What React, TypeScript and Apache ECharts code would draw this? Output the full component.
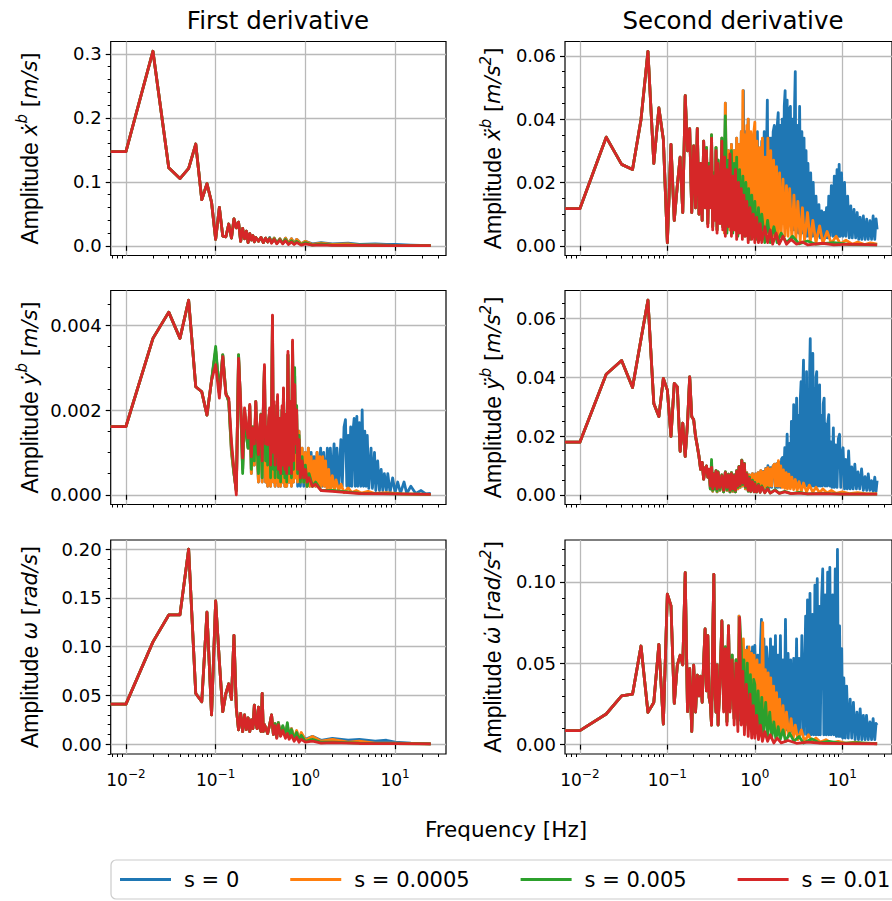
import React, { useEffect, useRef } from "react";
import * as echarts from "echarts";

type P = [number, number];

// ---------- axis constants ----------
const X_MIN = 0.006761;
const X_MAX = 36.98;
const X_MAJOR = [0.01, 0.1, 1, 10];
const X_MINOR = [0.007, 0.008, 0.009, 0.02, 0.03, 0.04, 0.05, 0.06, 0.07, 0.08, 0.09, 0.2, 0.3, 0.4, 0.5, 0.6, 0.7, 0.8, 0.9, 2, 3, 4, 5, 6, 7, 8, 9, 20, 30];

const SERIES_NAMES = ["s = 0", "s = 0.0005", "s = 0.005", "s = 0.01"];
const COLORS = ["#1f77b4", "#ff7f0e", "#2ca02c", "#d62728"];

// ---------- Panel A: first derivative, x ----------
const A_TICKS = [0, 0.1, 0.2, 0.3];
const A_LOW: P[] = [[0.01,0.147],[0.02,0.304],[0.03,0.122],[0.04,0.105],[0.05,0.121],[0.06,0.159],[0.07,0.072],[0.08,0.097],[0.09,0.068],[0.10,0.010],[0.11,0.060],[0.12,0.015],[0.13,0.014],[0.14,0.034],[0.15,0.012],[0.16,0.042],[0.17,0.028],[0.18,0.037],[0.19,0.007],[0.20,0.027],[0.21,0.011],[0.22,0.023],[0.23,0.005],[0.24,0.019],[0.25,0.009],[0.26,0.016],[0.27,0.006],[0.28,0.013],[0.30,0.007],[0.32,0.013],[0.34,0.005],[0.36,0.012],[0.38,0.006]];
const A_RED: P[] = [[0.40,0.011],[0.42,0.004],[0.45,0.010],[0.48,0.003],[0.52,0.009],[0.56,0.003],[0.60,0.008],[0.65,0.002],[0.70,0.006],[0.75,0.002],[0.80,0.005],[0.90,0.001],[1.0,0.003],[1.2,0.001],[1.5,0.0015],[2,0.0005],[4,0.0006],[8,0.0003],[25,0.0002]];
const A_GREEN: P[] = [[0.40,0.012],[0.42,0.005],[0.45,0.011],[0.48,0.004],[0.52,0.010],[0.56,0.004],[0.60,0.010],[0.65,0.003],[0.70,0.008],[0.75,0.003],[0.80,0.007],[0.90,0.002],[1.0,0.005],[1.2,0.001],[1.5,0.003],[2,0.001],[4,0.0008],[8,0.0004],[25,0.0002]];
const A_ORANGE: P[] = [[0.40,0.012],[0.42,0.005],[0.45,0.012],[0.48,0.004],[0.52,0.011],[0.56,0.004],[0.60,0.012],[0.65,0.004],[0.70,0.011],[0.75,0.003],[0.80,0.010],[0.90,0.003],[1.0,0.007],[1.2,0.002],[1.5,0.004],[2,0.002],[3,0.003],[4,0.001],[6,0.0015],[10,0.0005],[25,0.0002]];
const A_BLUE: P[] = [[0.40,0.013],[0.42,0.005],[0.45,0.012],[0.48,0.004],[0.52,0.011],[0.56,0.004],[0.60,0.012],[0.65,0.004],[0.70,0.011],[0.75,0.004],[0.80,0.010],[0.90,0.003],[1.0,0.007],[1.2,0.003],[1.5,0.005],[2,0.003],[3,0.004],[4,0.002],[6,0.003],[8,0.002],[10,0.002],[15,0.001],[25,0.0002]];

// ---------- Panel B: second derivative, x ----------
const B_TICKS = [0, 0.02, 0.04, 0.06];
const B_LOW: P[] = [[0.01,0.0117],[0.02,0.0343],[0.03,0.0257],[0.04,0.0241],[0.05,0.0399],[0.06,0.0614],[0.07,0.026],[0.08,0.0435],[0.09,0.0336],[0.10,0.001],[0.11,0.032],[0.12,0.008],[0.13,0.019],[0.14,0.028],[0.15,0.0105],[0.16,0.0474],[0.17,0.030],[0.18,0.037],[0.19,0.0105],[0.20,0.0315],[0.21,0.012],[0.22,0.037],[0.23,0.010],[0.24,0.026],[0.25,0.008],[0.26,0.033],[0.27,0.012]];
const B_RED: P[] = [[0.28,0.030],[0.29,0.006],[0.30,0.025],[0.31,0.012],[0.32,0.034],[0.33,0.005],[0.34,0.022],[0.35,0.008],[0.36,0.030],[0.37,0.004],[0.38,0.026],[0.40,0.007],[0.42,0.033],[0.43,0.005],[0.45,0.028],[0.46,0.003],[0.48,0.024],[0.50,0.006],[0.52,0.029],[0.54,0.003],[0.56,0.022],[0.58,0.005],[0.60,0.024],[0.62,0.002],[0.65,0.020],[0.67,0.004],[0.70,0.018],[0.72,0.002],[0.75,0.016],[0.78,0.003],[0.81,0.014],[0.84,0.001],[0.88,0.012],[0.92,0.002],[0.96,0.010],[1.0,0.001],[1.05,0.009],[1.1,0.001],[1.15,0.007],[1.2,0.001],[1.3,0.006],[1.4,0.001],[1.5,0.005],[1.6,0.0005],[1.75,0.004],[1.9,0.0005],[2.1,0.003],[2.3,0.0005],[2.6,0.002],[3.0,0.0005],[3.5,0.0012],[4,0.0003],[6,0.0008],[8,0.0003],[12,0.0005],[25,0.0003]];
const B_GREEN: P[] = [[0.28,0.031],[0.29,0.007],[0.30,0.026],[0.31,0.013],[0.32,0.035],[0.33,0.006],[0.34,0.023],[0.35,0.009],[0.36,0.031],[0.37,0.005],[0.38,0.027],[0.40,0.008],[0.42,0.034],[0.43,0.006],[0.45,0.030],[0.46,0.041],[0.48,0.004],[0.50,0.027],[0.52,0.007],[0.54,0.030],[0.56,0.004],[0.58,0.026],[0.60,0.006],[0.62,0.028],[0.64,0.003],[0.67,0.024],[0.70,0.005],[0.73,0.022],[0.76,0.003],[0.79,0.020],[0.82,0.004],[0.85,0.018],[0.88,0.002],[0.92,0.016],[0.96,0.003],[1.0,0.014],[1.05,0.002],[1.1,0.012],[1.15,0.002],[1.2,0.010],[1.3,0.001],[1.4,0.008],[1.5,0.001],[1.65,0.006],[1.8,0.001],[2.0,0.004],[2.3,0.001],[2.7,0.003],[3.2,0.0006],[4,0.0015],[5,0.0005],[8,0.001],[12,0.0004],[25,0.0003]];
const B_ORANGE: P[] = [[0.28,0.031],[0.29,0.007],[0.30,0.026],[0.31,0.013],[0.32,0.035],[0.33,0.006],[0.34,0.023],[0.35,0.009],[0.36,0.031],[0.37,0.005],[0.38,0.027],[0.40,0.008],[0.42,0.034],[0.43,0.006],[0.44,0.030],[0.45,0.004],[0.46,0.045],[0.48,0.007],[0.50,0.030],[0.52,0.005],[0.54,0.032],[0.56,0.007],[0.58,0.030],[0.60,0.005],[0.62,0.034],[0.64,0.006],[0.66,0.032],[0.68,0.008],[0.70,0.036],[0.72,0.010],[0.73,0.049],[0.75,0.009],[0.77,0.035],[0.79,0.008],[0.81,0.038],[0.83,0.007],[0.84,0.040],[0.87,0.008],[0.90,0.036],[0.93,0.006],[0.96,0.034],[1.0,0.039],[1.02,0.006],[1.06,0.033],[1.10,0.005],[1.14,0.031],[1.18,0.005],[1.22,0.034],[1.26,0.004],[1.31,0.028],[1.36,0.004],[1.41,0.034],[1.46,0.004],[1.52,0.030],[1.58,0.003],[1.64,0.027],[1.70,0.003],[1.77,0.025],[1.84,0.003],[1.92,0.023],[2.0,0.003],[2.1,0.021],[2.2,0.003],[2.3,0.019],[2.4,0.003],[2.5,0.018],[2.65,0.002],[2.8,0.016],[2.95,0.002],[3.1,0.014],[3.3,0.0015],[3.5,0.012],[3.7,0.0015],[4.0,0.0105],[4.3,0.0012],[4.6,0.008],[5.0,0.001],[5.5,0.0063],[6.0,0.0008],[6.7,0.0045],[7.5,0.0007],[8.5,0.003],[9.5,0.0006],[11,0.0018],[13,0.0005],[15,0.0012],[18,0.0004],[21,0.0009],[25,0.0005]];
const B_BLUE_HIGH: P[] = [[0.72,0.010],[0.74,0.049],[0.76,0.008],[0.78,0.036],[0.80,0.008],[0.82,0.034],[0.84,0.040],[0.86,0.008],[0.89,0.035],[0.92,0.008],[0.95,0.033],[0.98,0.008],[1.0,0.034],[1.03,0.008],[1.07,0.036],[1.10,0.008],[1.13,0.028],[1.16,0.008],[1.20,0.033],[1.24,0.008],[1.28,0.036],[1.32,0.008],[1.36,0.030],[1.39,0.046],[1.42,0.008],[1.46,0.034],[1.50,0.008],[1.53,0.034],[1.57,0.008],[1.62,0.036],[1.67,0.038],[1.72,0.008],[1.78,0.036],[1.85,0.042],[1.90,0.007],[1.95,0.038],[2.0,0.007],[2.06,0.040],[2.12,0.007],[2.17,0.044],[2.22,0.049],[2.27,0.006],[2.34,0.046],[2.40,0.006],[2.47,0.043],[2.55,0.044],[2.62,0.005],[2.70,0.040],[2.78,0.005],[2.85,0.045],[2.90,0.055],[2.96,0.005],[3.05,0.038],[3.15,0.004],[3.25,0.044],[3.35,0.004],[3.45,0.036],[3.55,0.004],[3.65,0.034],[3.75,0.004],[3.85,0.030],[3.95,0.003],[4.05,0.026],[4.2,0.003],[4.35,0.023],[4.5,0.003],[4.65,0.020],[4.8,0.003],[5.0,0.0157],[5.2,0.003],[5.4,0.013],[5.6,0.0025],[5.8,0.011],[6.0,0.0025],[6.2,0.0105],[6.4,0.0025],[6.6,0.012],[6.8,0.0025],[7.0,0.0157],[7.2,0.003],[7.5,0.019],[7.8,0.003],[8.1,0.022],[8.4,0.003],[8.7,0.024],[9.0,0.003],[9.2,0.0257],[9.5,0.003],[9.8,0.023],[10.2,0.003],[10.6,0.020],[11.0,0.003],[11.5,0.0157],[12.0,0.0025],[12.5,0.0126],[13.0,0.0025],[13.6,0.0115],[14.2,0.0025],[14.8,0.0105],[15.4,0.002],[16.0,0.009],[16.7,0.002],[17.4,0.0094],[18.2,0.002],[19.0,0.0084],[19.8,0.002],[20.7,0.0079],[21.6,0.002],[22.5,0.0094],[23.5,0.002],[24.3,0.0085],[25,0.0052]];
const B_BLUE: P[] = [...B_ORANGE.filter((p) => p[0] <= 0.70), ...B_BLUE_HIGH];

// ---------- Panel C: first derivative, y ----------
const C_TICKS = [0, 0.002, 0.004];
const C_LOW: P[] = [[0.01,0.00161],[0.02,0.00369],[0.03,0.00431],[0.04,0.00369],[0.05,0.00459],[0.06,0.00255],[0.07,0.00243],[0.08,0.00188],[0.09,0.0027]];
const C_RED: P[] = [[0.10,0.00307],[0.11,0.00228],[0.12,0.00326],[0.13,0.00236],[0.14,0.00228],[0.15,0.00126],[0.16,0.0006],[0.17,0.0],[0.18,0.00322],[0.19,0.0022],[0.20,0.00087],[0.21,0.00205],[0.22,0.0016],[0.23,0.00134],[0.24,0.00213],[0.25,0.0009],[0.26,0.00158],[0.27,0.0012],[0.28,0.0022],[0.29,0.0014],[0.30,0.00095],[0.31,0.0016],[0.32,0.00189],[0.33,0.0008],[0.34,0.0021],[0.35,0.00307],[0.36,0.0012],[0.37,0.0016],[0.38,0.00118],[0.39,0.0018],[0.40,0.00205],[0.41,0.0007],[0.42,0.0019],[0.43,0.00424],[0.44,0.0010],[0.45,0.0022],[0.46,0.0007],[0.47,0.0017],[0.48,0.0009],[0.49,0.00236],[0.50,0.0006],[0.52,0.0018],[0.53,0.0005],[0.55,0.0021],[0.56,0.0007],[0.57,0.00252],[0.59,0.0006],[0.61,0.0019],[0.62,0.0005],[0.64,0.00338],[0.66,0.0007],[0.68,0.0022],[0.70,0.0005],[0.72,0.00365],[0.74,0.0008],[0.76,0.0026],[0.78,0.0012],[0.80,0.0020],[0.82,0.0006],[0.85,0.0013],[0.88,0.0004],[0.92,0.0008],[0.96,0.0004],[1.0,0.0006],[1.05,0.0003],[1.1,0.0004],[1.2,0.0002],[1.3,0.00025],[1.5,0.0001],[2,0.00008],[4,0.00003],[10,0.00002],[25,0.00001]];
const C_GREEN: P[] = [[0.10,0.0035],[0.11,0.0024],[0.12,0.0033],[0.13,0.0024],[0.14,0.0022],[0.15,0.0011],[0.16,0.0005],[0.17,0.0001],[0.18,0.0033],[0.19,0.0021],[0.20,0.0005],[0.21,0.0020],[0.22,0.0014],[0.23,0.0011],[0.24,0.0021],[0.25,0.0006],[0.26,0.0016],[0.27,0.0008],[0.28,0.0022],[0.29,0.0011],[0.30,0.0005],[0.31,0.0015],[0.32,0.0019],[0.33,0.0004],[0.34,0.0020],[0.35,0.0030],[0.36,0.0008],[0.37,0.0015],[0.38,0.0007],[0.39,0.0017],[0.40,0.0020],[0.41,0.0004],[0.42,0.0018],[0.43,0.0042],[0.44,0.0006],[0.45,0.0021],[0.46,0.0004],[0.47,0.0016],[0.48,0.0006],[0.49,0.0023],[0.50,0.0004],[0.52,0.0018],[0.53,0.0003],[0.55,0.0020],[0.56,0.0005],[0.57,0.0025],[0.59,0.0004],[0.61,0.0019],[0.62,0.0003],[0.64,0.0033],[0.66,0.0005],[0.68,0.0022],[0.70,0.0004],[0.72,0.0036],[0.74,0.0006],[0.76,0.0030],[0.78,0.0010],[0.80,0.0021],[0.82,0.0005],[0.85,0.0014],[0.88,0.0003],[0.92,0.0009],[0.96,0.0003],[1.0,0.0007],[1.05,0.0002],[1.1,0.0005],[1.2,0.0002],[1.3,0.0003],[1.5,0.0001],[2,0.0001],[4,0.00004],[10,0.00002],[25,0.00001]];
const C_ORANGE: P[] = [[0.10,0.0034],[0.11,0.0024],[0.12,0.0033],[0.13,0.0024],[0.14,0.0022],[0.15,0.0010],[0.16,0.0005],[0.17,0.0001],[0.18,0.0033],[0.19,0.0021],[0.20,0.0006],[0.21,0.0020],[0.22,0.0014],[0.23,0.0011],[0.24,0.0021],[0.25,0.0005],[0.26,0.0016],[0.27,0.0007],[0.28,0.0022],[0.29,0.0010],[0.30,0.0003],[0.31,0.0015],[0.32,0.0019],[0.33,0.0003],[0.34,0.0020],[0.35,0.0030],[0.36,0.0003],[0.37,0.0015],[0.38,0.0002],[0.39,0.0017],[0.40,0.0020],[0.41,0.0002],[0.42,0.0018],[0.43,0.0042],[0.44,0.0003],[0.45,0.0021],[0.46,0.0002],[0.47,0.0016],[0.48,0.0003],[0.49,0.0023],[0.50,0.0002],[0.52,0.0018],[0.53,0.0002],[0.55,0.0020],[0.56,0.0003],[0.57,0.0025],[0.59,0.0002],[0.61,0.0019],[0.62,0.0002],[0.64,0.0033],[0.66,0.0003],[0.68,0.0022],[0.70,0.0002],[0.72,0.0036],[0.74,0.0003],[0.76,0.0028],[0.78,0.0004],[0.80,0.0019],[0.82,0.0003],[0.85,0.0015],[0.88,0.0003],[0.92,0.0011],[0.96,0.0003],[1.0,0.0010],[1.04,0.0002],[1.08,0.0011],[1.12,0.0002],[1.16,0.0009],[1.2,0.0002],[1.25,0.0008],[1.3,0.0002],[1.35,0.0010],[1.4,0.0002],[1.45,0.0009],[1.5,0.0002],[1.56,0.0009],[1.62,0.0002],[1.68,0.0008],[1.75,0.0001],[1.82,0.0006],[1.9,0.0001],[2.0,0.00045],[2.1,0.0001],[2.2,0.00035],[2.35,0.0001],[2.5,0.00025],[2.7,0.00005],[3.0,0.00016],[3.3,0.00005],[3.7,0.0001],[4.2,0.00004],[5,0.00008],[6,0.00003],[8,0.00005],[12,0.00002],[25,0.00001]];
const C_BLUE_HIGH: P[] = [[0.80,0.0019],[0.82,0.0002],[0.85,0.0015],[0.88,0.0002],[0.92,0.0011],[0.96,0.0002],[1.0,0.0010],[1.04,0.0002],[1.08,0.0011],[1.12,0.0002],[1.16,0.0010],[1.2,0.0002],[1.25,0.0009],[1.3,0.0002],[1.35,0.0010],[1.4,0.0002],[1.48,0.0011],[1.54,0.0002],[1.6,0.0010],[1.66,0.0002],[1.76,0.0011],[1.82,0.0002],[1.9,0.0011],[1.98,0.0002],[2.09,0.0012],[2.16,0.0002],[2.25,0.0011],[2.35,0.0002],[2.49,0.0013],[2.58,0.0002],[2.7,0.0016],[2.8,0.00177],[2.9,0.0002],[3.0,0.0014],[3.1,0.0002],[3.2,0.0016],[3.3,0.0002],[3.4,0.0015],[3.5,0.0018],[3.6,0.0002],[3.75,0.00185],[3.85,0.0002],[4.0,0.0017],[4.15,0.0002],[4.3,0.0020],[4.45,0.0002],[4.6,0.0015],[4.75,0.0002],[4.9,0.0014],[5.1,0.00015],[5.4,0.0011],[5.6,0.00015],[5.9,0.0010],[6.1,0.0001],[6.4,0.0008],[6.7,0.0001],[7.0,0.0006],[7.3,0.0001],[7.6,0.0005],[8.0,0.0001],[8.3,0.0005],[8.8,0.00005],[9.4,0.0004],[10,0.00005],[10.7,0.0003],[11.5,0.00004],[12.6,0.0003],[13.5,0.00003],[15,0.0002],[17,0.00003],[19.5,0.0001],[22,0.00002],[25,0.00003]];
const C_BLUE: P[] = [...C_ORANGE.filter((p) => p[0] <= 0.78), ...C_BLUE_HIGH];

// ---------- Panel D: second derivative, y ----------
const D_TICKS = [0, 0.02, 0.04, 0.06];
const D_LOW: P[] = [[0.01,0.0179],[0.02,0.041],[0.03,0.0457],[0.04,0.0365],[0.05,0.053],[0.06,0.0662],[0.07,0.0311],[0.08,0.0266],[0.09,0.0396],[0.10,0.0356],[0.11,0.0199],[0.12,0.0379],[0.13,0.0367],[0.14,0.0148],[0.15,0.0244],[0.16,0.0131],[0.17,0.0244],[0.18,0.0401],[0.19,0.0266],[0.20,0.0255],[0.21,0.0199],[0.22,0.0165],[0.23,0.013],[0.24,0.0087],[0.25,0.011],[0.26,0.0053],[0.27,0.009],[0.28,0.0098],[0.29,0.006]];
const D_RED: P[] = [[0.30,0.0087],[0.31,0.003],[0.32,0.0093],[0.33,0.002],[0.34,0.007],[0.35,0.003],[0.36,0.008],[0.37,0.002],[0.38,0.0075],[0.40,0.0025],[0.42,0.0065],[0.44,0.0015],[0.46,0.0075],[0.48,0.0025],[0.50,0.0068],[0.52,0.0015],[0.54,0.0072],[0.56,0.002],[0.58,0.0065],[0.60,0.0015],[0.62,0.008],[0.64,0.003],[0.66,0.0095],[0.68,0.0035],[0.71,0.0116],[0.73,0.004],[0.76,0.0105],[0.78,0.003],[0.81,0.007],[0.84,0.0015],[0.87,0.0055],[0.90,0.0012],[0.94,0.0045],[0.98,0.001],[1.0,0.0037],[1.05,0.001],[1.1,0.0032],[1.15,0.0008],[1.2,0.0026],[1.3,0.0007],[1.4,0.002],[1.5,0.0006],[1.7,0.0015],[1.9,0.0005],[2.2,0.001],[2.6,0.0004],[3.2,0.0006],[4,0.0003],[6,0.0004],[10,0.0002],[25,0.0002]];
const D_GREEN: P[] = [[0.30,0.0085],[0.31,0.002],[0.32,0.012],[0.33,0.0015],[0.34,0.0072],[0.35,0.002],[0.36,0.0082],[0.37,0.0012],[0.38,0.0078],[0.40,0.0018],[0.42,0.0068],[0.44,0.001],[0.46,0.0078],[0.48,0.0018],[0.50,0.007],[0.52,0.001],[0.54,0.0075],[0.56,0.0015],[0.58,0.0068],[0.60,0.001],[0.62,0.0082],[0.64,0.0025],[0.66,0.0097],[0.68,0.003],[0.71,0.0118],[0.73,0.0035],[0.76,0.0107],[0.78,0.0025],[0.81,0.0073],[0.84,0.0012],[0.87,0.006],[0.90,0.001],[0.94,0.005],[0.98,0.001],[1.0,0.0042],[1.05,0.0009],[1.1,0.0036],[1.15,0.0008],[1.2,0.003],[1.3,0.0007],[1.4,0.0024],[1.5,0.0006],[1.7,0.0018],[1.9,0.0005],[2.2,0.0012],[2.6,0.0004],[3.2,0.0008],[4,0.0003],[6,0.0005],[10,0.0002],[25,0.0002]];
const D_ORANGE: P[] = [[0.30,0.0085],[0.31,0.002],[0.32,0.0105],[0.33,0.0012],[0.34,0.0072],[0.35,0.002],[0.36,0.0082],[0.37,0.001],[0.38,0.0078],[0.40,0.0015],[0.42,0.0068],[0.44,0.001],[0.46,0.0078],[0.48,0.0015],[0.50,0.007],[0.52,0.001],[0.54,0.0075],[0.56,0.0012],[0.58,0.0068],[0.60,0.001],[0.62,0.0082],[0.64,0.002],[0.66,0.0097],[0.68,0.0025],[0.71,0.0118],[0.73,0.003],[0.76,0.0107],[0.78,0.002],[0.81,0.0075],[0.84,0.0015],[0.87,0.0068],[0.90,0.0015],[0.94,0.0072],[0.98,0.0015],[1.02,0.0071],[1.06,0.002],[1.09,0.0075],[1.13,0.002],[1.17,0.0082],[1.21,0.0025],[1.25,0.0078],[1.29,0.0025],[1.33,0.0088],[1.37,0.003],[1.41,0.0092],[1.46,0.003],[1.51,0.0088],[1.56,0.003],[1.61,0.0095],[1.67,0.0104],[1.72,0.003],[1.78,0.0105],[1.83,0.003],[1.86,0.0116],[1.92,0.003],[1.98,0.0098],[2.05,0.0025],[2.12,0.0085],[2.2,0.0022],[2.28,0.0075],[2.36,0.002],[2.45,0.007],[2.55,0.002],[2.65,0.006],[2.78,0.0018],[2.9,0.0052],[3.05,0.0015],[3.2,0.0045],[3.4,0.0012],[3.6,0.004],[3.9,0.001],[4.2,0.0033],[4.6,0.0009],[5.0,0.0026],[5.5,0.0007],[6.0,0.002],[6.7,0.0006],[7.5,0.0015],[8.5,0.0005],[10,0.001],[12,0.0004],[15,0.0007],[19,0.0003],[25,0.0004]];
const D_BLUE_HIGH: P[] = [[1.21,0.0025],[1.25,0.0080],[1.29,0.0025],[1.33,0.0090],[1.37,0.0025],[1.41,0.0099],[1.46,0.0025],[1.51,0.0092],[1.56,0.0025],[1.61,0.0097],[1.67,0.0104],[1.72,0.0025],[1.78,0.0106],[1.83,0.0025],[1.9,0.0110],[1.96,0.0025],[2.02,0.0122],[2.07,0.0127],[2.12,0.003],[2.2,0.016],[2.26,0.003],[2.34,0.0206],[2.42,0.003],[2.5,0.0175],[2.56,0.003],[2.62,0.025],[2.7,0.003],[2.78,0.0307],[2.85,0.003],[2.9,0.022],[2.95,0.003],[3.0,0.0329],[3.08,0.003],[3.15,0.027],[3.22,0.003],[3.3,0.032],[3.38,0.0385],[3.45,0.003],[3.52,0.034],[3.6,0.0458],[3.67,0.003],[3.74,0.036],[3.82,0.003],[3.9,0.0419],[3.98,0.003],[4.06,0.034],[4.15,0.003],[4.22,0.040],[4.3,0.0531],[4.38,0.003],[4.46,0.042],[4.54,0.003],[4.6,0.0481],[4.7,0.003],[4.8,0.036],[4.9,0.003],[5.0,0.040],[5.1,0.0419],[5.2,0.003],[5.3,0.033],[5.4,0.003],[5.5,0.0374],[5.6,0.003],[5.75,0.027],[5.9,0.003],[6.05,0.031],[6.2,0.0329],[6.35,0.003],[6.5,0.024],[6.7,0.003],[6.85,0.025],[7.0,0.0273],[7.2,0.003],[7.4,0.018],[7.6,0.0025],[7.9,0.0228],[8.1,0.0025],[8.4,0.017],[8.7,0.0025],[9.0,0.019],[9.3,0.0206],[9.6,0.0025],[9.9,0.014],[10.2,0.016],[10.6,0.002],[11.0,0.012],[11.4,0.002],[11.8,0.0149],[12.3,0.002],[12.8,0.0095],[13.3,0.002],[13.9,0.0104],[14.5,0.002],[15.1,0.0078],[15.8,0.002],[16.6,0.0088],[17.4,0.0015],[18.2,0.0062],[19.0,0.0015],[19.8,0.0071],[20.7,0.0015],[21.6,0.0048],[22.5,0.0012],[23.5,0.006],[24.3,0.0012],[25,0.0048]];
const D_BLUE: P[] = [...D_ORANGE.filter((p) => p[0] <= 1.17), ...D_BLUE_HIGH];

// ---------- Panel E: first derivative, omega ----------
const E_TICKS = [0, 0.05, 0.1, 0.15, 0.2];
const E_LOW: P[] = [[0.01,0.0411],[0.02,0.105],[0.03,0.1326],[0.04,0.1326],[0.05,0.200],[0.06,0.052],[0.07,0.0435],[0.08,0.1354],[0.09,0.030],[0.10,0.147],[0.11,0.085],[0.12,0.0333],[0.13,0.052],[0.14,0.062],[0.15,0.046],[0.16,0.1115],[0.17,0.037],[0.18,0.0146],[0.19,0.0316],[0.20,0.0129],[0.21,0.030],[0.22,0.015],[0.23,0.027],[0.24,0.013],[0.25,0.025],[0.26,0.016],[0.27,0.040],[0.28,0.021],[0.29,0.016],[0.30,0.038],[0.31,0.018],[0.32,0.013],[0.33,0.052],[0.34,0.013],[0.35,0.020],[0.36,0.017],[0.38,0.011],[0.40,0.020],[0.42,0.030],[0.44,0.010]];
const E_RED: P[] = [[0.46,0.019],[0.48,0.006],[0.50,0.020],[0.53,0.008],[0.56,0.014],[0.60,0.006],[0.63,0.011],[0.66,0.005],[0.70,0.009],[0.75,0.003],[0.80,0.007],[0.85,0.002],[0.90,0.005],[1.0,0.002],[1.2,0.003],[1.5,0.001],[2,0.0015],[4,0.0007],[10,0.0005],[25,0.0003]];
const E_GREEN: P[] = [[0.46,0.021],[0.48,0.007],[0.50,0.022],[0.53,0.009],[0.56,0.019],[0.60,0.008],[0.63,0.022],[0.66,0.007],[0.70,0.015],[0.75,0.005],[0.80,0.012],[0.85,0.004],[0.90,0.009],[1.0,0.003],[1.2,0.005],[1.5,0.002],[2,0.002],[4,0.001],[10,0.0006],[25,0.0003]];
const E_ORANGE: P[] = [[0.46,0.021],[0.48,0.007],[0.50,0.022],[0.53,0.009],[0.56,0.018],[0.60,0.008],[0.63,0.020],[0.66,0.007],[0.70,0.016],[0.75,0.006],[0.80,0.014],[0.85,0.005],[0.90,0.012],[1.0,0.004],[1.2,0.008],[1.5,0.003],[2,0.005],[3,0.002],[4,0.003],[6,0.001],[10,0.001],[25,0.0003]];
const E_BLUE: P[] = [[0.46,0.021],[0.48,0.007],[0.50,0.022],[0.53,0.009],[0.56,0.018],[0.60,0.008],[0.63,0.020],[0.66,0.007],[0.70,0.016],[0.75,0.006],[0.80,0.013],[0.85,0.005],[0.90,0.011],[1.0,0.005],[1.2,0.008],[1.5,0.004],[2,0.006],[3,0.004],[4,0.005],[6,0.003],[8,0.004],[10,0.002],[15,0.001],[25,0.0003]];

// ---------- Panel F: second derivative, omega ----------
const F_TICKS = [0, 0.05, 0.1];
const F_LOW: P[] = [[0.01,0.0086],[0.02,0.0188],[0.03,0.030],[0.04,0.031],[0.05,0.0606],[0.06,0.0198],[0.07,0.0259],[0.08,0.0616],[0.09,0.0126],[0.10,0.0925],[0.11,0.0854],[0.12,0.0254],[0.13,0.0488],[0.14,0.0549],[0.15,0.049],[0.16,0.1057],[0.17,0.0203],[0.18,0.0467],[0.19,0.0081],[0.20,0.0488],[0.21,0.020],[0.22,0.0427],[0.23,0.030],[0.24,0.042],[0.25,0.026],[0.26,0.051],[0.27,0.0711],[0.28,0.033],[0.29,0.067],[0.30,0.029],[0.31,0.025],[0.32,0.012],[0.33,0.065],[0.34,0.1047],[0.35,0.031],[0.36,0.020],[0.37,0.049],[0.38,0.012]];
const F_RED: P[] = [[0.40,0.038],[0.42,0.076],[0.44,0.020],[0.46,0.059],[0.48,0.012],[0.50,0.073],[0.52,0.020],[0.55,0.052],[0.58,0.012],[0.61,0.050],[0.64,0.008],[0.67,0.078],[0.70,0.012],[0.73,0.045],[0.76,0.006],[0.80,0.037],[0.84,0.005],[0.88,0.031],[0.92,0.004],[0.96,0.024],[1.0,0.004],[1.05,0.018],[1.1,0.003],[1.16,0.012],[1.22,0.002],[1.3,0.008],[1.4,0.002],[1.5,0.006],[1.65,0.001],[1.8,0.004],[2.0,0.001],[2.4,0.0025],[3,0.0008],[4,0.0015],[6,0.0008],[10,0.0006],[25,0.0005]];
const F_GREEN: P[] = [[0.40,0.040],[0.42,0.076],[0.44,0.022],[0.46,0.060],[0.48,0.014],[0.50,0.073],[0.52,0.022],[0.55,0.055],[0.58,0.016],[0.61,0.052],[0.64,0.012],[0.67,0.078],[0.70,0.059],[0.72,0.015],[0.75,0.052],[0.78,0.012],[0.82,0.050],[0.85,0.010],[0.89,0.043],[0.93,0.009],[0.97,0.040],[1.0,0.037],[1.04,0.008],[1.09,0.033],[1.14,0.007],[1.2,0.029],[1.26,0.006],[1.33,0.026],[1.4,0.005],[1.48,0.020],[1.56,0.004],[1.65,0.014],[1.74,0.003],[1.85,0.011],[1.95,0.003],[2.1,0.009],[2.25,0.002],[2.5,0.007],[2.8,0.002],[3.2,0.005],[3.6,0.001],[4.5,0.0035],[5.5,0.001],[7,0.002],[10,0.0008],[15,0.0012],[25,0.0005]];
const F_ORANGE: P[] = [[0.40,0.040],[0.42,0.076],[0.44,0.022],[0.46,0.060],[0.48,0.014],[0.50,0.073],[0.52,0.022],[0.55,0.055],[0.58,0.016],[0.61,0.052],[0.64,0.015],[0.66,0.079],[0.68,0.020],[0.70,0.060],[0.72,0.018],[0.74,0.065],[0.77,0.020],[0.80,0.058],[0.83,0.018],[0.86,0.060],[0.89,0.016],[0.92,0.056],[0.95,0.015],[0.98,0.055],[1.02,0.016],[1.06,0.052],[1.1,0.014],[1.14,0.049],[1.18,0.013],[1.23,0.075],[1.27,0.013],[1.32,0.046],[1.37,0.012],[1.42,0.044],[1.47,0.011],[1.52,0.041],[1.58,0.010],[1.64,0.036],[1.7,0.009],[1.77,0.032],[1.84,0.008],[1.92,0.028],[2.0,0.007],[2.1,0.024],[2.2,0.006],[2.3,0.020],[2.45,0.005],[2.6,0.016],[2.75,0.004],[2.9,0.012],[3.1,0.003],[3.4,0.009],[3.7,0.002],[4.1,0.006],[4.5,0.002],[5,0.004],[5.6,0.0015],[6.5,0.003],[7.5,0.001],[9,0.002],[11,0.0008],[14,0.0015],[18,0.0006],[25,0.0006]];
const F_BLUE_HIGH: P[] = [[0.66,0.079],[0.68,0.015],[0.71,0.061],[0.73,0.015],[0.76,0.058],[0.79,0.015],[0.82,0.060],[0.85,0.015],[0.88,0.057],[0.91,0.015],[0.94,0.060],[0.97,0.015],[1.0,0.061],[1.04,0.015],[1.08,0.055],[1.12,0.015],[1.16,0.060],[1.19,0.077],[1.22,0.014],[1.27,0.065],[1.31,0.014],[1.36,0.060],[1.41,0.049],[1.46,0.013],[1.51,0.065],[1.56,0.013],[1.61,0.060],[1.66,0.012],[1.72,0.067],[1.78,0.012],[1.84,0.055],[1.9,0.011],[1.96,0.067],[2.02,0.010],[2.1,0.052],[2.17,0.010],[2.24,0.077],[2.31,0.009],[2.4,0.056],[2.48,0.008],[2.57,0.052],[2.66,0.008],[2.78,0.053],[2.88,0.007],[3.0,0.065],[3.1,0.007],[3.2,0.053],[3.3,0.006],[3.45,0.067],[3.6,0.006],[3.81,0.079],[3.9,0.006],[4.0,0.089],[4.13,0.006],[4.27,0.093],[4.4,0.006],[4.55,0.080],[4.7,0.006],[4.86,0.098],[5.0,0.006],[5.17,0.102],[5.3,0.006],[5.45,0.085],[5.6,0.006],[5.8,0.090],[5.97,0.108],[6.15,0.006],[6.35,0.092],[6.55,0.006],[6.8,0.106],[7.0,0.006],[7.2,0.109],[7.45,0.006],[7.75,0.092],[8.0,0.006],[8.3,0.108],[8.55,0.005],[8.8,0.120],[9.05,0.005],[9.3,0.073],[9.55,0.005],[9.84,0.059],[10.1,0.004],[10.4,0.041],[10.8,0.004],[11.2,0.036],[11.7,0.004],[12.3,0.028],[12.8,0.004],[13.4,0.026],[14,0.003],[14.7,0.020],[15.3,0.003],[16,0.022],[16.7,0.003],[17.4,0.018],[18.2,0.003],[18.9,0.018],[19.8,0.003],[20.7,0.014],[21.6,0.003],[22.5,0.016],[23.5,0.003],[24.3,0.013],[25,0.012]];
const F_BLUE: P[] = [...F_ORANGE.filter((p) => p[0] <= 0.64), ...F_BLUE_HIGH];

// ---------- layout & styles ----------
const FONT_H = '"DejaVu Sans", sans-serif';
const FONT_V = '"Liberation Sans", Arial, sans-serif';
const FONT_M = '"DejaVu Sans", sans-serif';
const GRID_COLOR = "#b9b9b9";
const COL_LEFT = [110.7, 565];
const COL_WIDTH = [335.3, 336];
const ROW_TOP = [41.5, 290.5, 540];
const ROW_HEIGHT = 214;
const NAME_GAP = [66, 57];
const LINE_WIDTH = 2.8;

const PANELS = [
  { low: A_LOW, tails: [A_BLUE, A_ORANGE, A_GREEN, A_RED], yMin: -0.0152, yMax: 0.3192, split: 3, ticks: A_TICKS, dec: 1, minor: 5, name: "{n|Amplitude }{m|\u1E8B}{s|b}{u| [}{m|m/s}{u|]}" },
  { low: B_LOW, tails: [B_BLUE, B_ORANGE, B_GREEN, B_RED], yMin: -0.00307, yMax: 0.0645, split: 3, ticks: B_TICKS, dec: 2, minor: 4, name: "{n|Amplitude }{m|\u1E8D}{s|b}{u| [}{m|m/s}{s|2}{u|]}" },
  { low: C_LOW, tails: [C_BLUE, C_ORANGE, C_GREEN, C_RED], yMin: -0.00023, yMax: 0.00482, split: 3, ticks: C_TICKS, dec: 3, minor: 4, name: "{n|Amplitude }{m|\u1E8F}{s|b}{u| [}{m|m/s}{u|]}" },
  { low: D_LOW, tails: [D_BLUE, D_ORANGE, D_GREEN, D_RED], yMin: -0.0033, yMax: 0.0695, split: 4, ticks: D_TICKS, dec: 2, minor: 4, name: "{n|Amplitude }{m|\u00FF}{s|b}{u| [}{m|m/s}{s|2}{u|]}" },
  { low: E_LOW, tails: [E_BLUE, E_ORANGE, E_GREEN, E_RED], yMin: -0.0101, yMax: 0.2095, split: 4, ticks: E_TICKS, dec: 2, minor: 5, name: "{n|Amplitude }{m|\u03C9}{u| [}{m|rad/s}{u|]}" },
  { low: F_LOW, tails: [F_BLUE, F_ORANGE, F_GREEN, F_RED], yMin: -0.0058, yMax: 0.1258, split: 3, ticks: F_TICKS, dec: 2, minor: 5, name: "{n|Amplitude }{m|\u03C9\u0307}{u| [}{m|rad/s}{s|2}{u|]}" },
];

const NAME_RICH = {
  n: { fontFamily: FONT_V, fontSize: 23, lineHeight: 30, color: "#000" },
  m: { fontFamily: FONT_M, fontStyle: "italic", fontSize: 21, lineHeight: 30, color: "#000" },
  u: { fontFamily: FONT_M, fontSize: 21, lineHeight: 30, color: "#000" },
  s: { fontFamily: FONT_M, fontStyle: "italic", fontSize: 15, lineHeight: 14, verticalAlign: "top", color: "#000" },
};

const XL_RICH = {
  b: { fontFamily: FONT_H, fontSize: 17, lineHeight: 24, color: "#000" },
  e: { fontFamily: FONT_H, fontSize: 12, lineHeight: 10, verticalAlign: "top", color: "#000" },
};

function buildSeriesData(low: P[], tail: P[]): P[] {
  return [[X_MIN, low[0][1]], ...low, ...tail];
}

function buildOption() {
  const grid: any[] = [];
  const xAxis: any[] = [];
  const yAxis: any[] = [];
  const series: any[] = [];
  const tickLine = { color: "#000", width: 1.2 };

  PANELS.forEach((p, i) => {
    const row = Math.floor(i / 2);
    const col = i % 2;
    const isBottom = row === 2;
    grid.push({
      left: COL_LEFT[col], top: ROW_TOP[row], width: COL_WIDTH[col], height: ROW_HEIGHT,
      show: true, borderColor: "#000", borderWidth: 1.2, backgroundColor: "transparent", containLabel: false,
    });
    xAxis.push({
      type: "log", logBase: 10, gridIndex: i, min: X_MIN, max: X_MAX, position: "bottom",
      axisLine: { show: false },
      axisTick: { show: true, length: 5, lineStyle: tickLine, customValues: X_MAJOR },
      axisLabel: {
        show: isBottom, customValues: X_MAJOR, margin: 14, rich: XL_RICH,
        formatter: (v: number) => {
          const e = Math.round(Math.log10(v));
          return `{b|10}{e|${e < 0 ? "\u2212" : ""}${Math.abs(e)}}`;
        },
      },
      splitLine: { show: true, lineStyle: { color: GRID_COLOR, width: 1.3 } },
      minorTick: { show: false },
    });
    xAxis.push({
      type: "log", logBase: 10, gridIndex: i, min: X_MIN, max: X_MAX, position: "bottom",
      axisLine: { show: false },
      axisTick: { show: true, length: 3, lineStyle: { color: "#000", width: 1 }, customValues: X_MINOR },
      axisLabel: { show: false },
      splitLine: { show: false },
    });
    yAxis.push({
      type: "value", gridIndex: i, min: p.yMin, max: p.yMax, splitNumber: p.split,
      axisLine: { show: false },
      axisTick: { show: true, length: 5, lineStyle: tickLine, customValues: p.ticks },
      axisLabel: {
        customValues: p.ticks, margin: 9, color: "#000", fontFamily: FONT_H, fontSize: 18,
        formatter: (v: number) => v.toFixed(p.dec),
      },
      minorTick: { show: true, splitNumber: p.minor, length: 3, lineStyle: { color: "#000", width: 1 } },
      splitLine: { show: true, lineStyle: { color: GRID_COLOR, width: 1.3 } },
      name: p.name, nameLocation: "middle", nameRotate: 90, nameGap: NAME_GAP[col],
      nameTextStyle: { rich: NAME_RICH, color: "#000" },
    });
    p.tails.forEach((tail, k) => {
      series.push({
        type: "line", name: SERIES_NAMES[k], xAxisIndex: 2 * i, yAxisIndex: i,
        data: buildSeriesData(p.low, tail),
        showSymbol: false, symbol: "none", clip: true,
        lineStyle: { color: COLORS[k], width: LINE_WIDTH, join: "round" },
        itemStyle: { color: COLORS[k] },
        emphasis: { disabled: true },
        z: 2 + k,
      });
    });
  });

  return {
    animation: false,
    backgroundColor: "#fff",
    textStyle: { fontFamily: FONT_H },
    grid, xAxis, yAxis, series,
    legend: {
      data: SERIES_NAMES, left: 111, top: 860, width: 820, orient: "horizontal",
      icon: "rect", itemWidth: 51, itemHeight: 3, itemGap: 51,
      padding: [9, 12, 9, 9],
      borderColor: "#cccccc", borderWidth: 1.2, borderRadius: 5, backgroundColor: "#fff",
      textStyle: { fontFamily: FONT_H, fontSize: 21, color: "#000", padding: [0, 0, 0, 8] },
      selectedMode: false,
    },
    graphic: [
      { type: "text", x: 278, y: 20.5, style: { text: "First derivative", font: `24.5px ${FONT_H}`, fill: "#000", textAlign: "center", textVerticalAlign: "middle" } },
      { type: "text", x: 733, y: 20.5, style: { text: "Second derivative", font: `24.5px ${FONT_H}`, fill: "#000", textAlign: "center", textVerticalAlign: "middle" } },
      { type: "text", x: 506, y: 829, style: { text: "Frequency [Hz]", font: `21.5px ${FONT_H}`, fill: "#000", textAlign: "center", textVerticalAlign: "middle" } },
    ],
  };
}

export default function App() {
  const ref = useRef<HTMLDivElement>(null);
  useEffect(() => {
    if (!ref.current) return;
    const chart = echarts.init(ref.current, undefined, { renderer: "svg" });
    chart.setOption(buildOption() as any);
    return () => chart.dispose();
  }, []);
  return (
    <div
      ref={ref}
      style={{ position: "fixed", left: 0, top: 0, width: 892, height: 901, background: "#fff" }}
    />
  );
}
